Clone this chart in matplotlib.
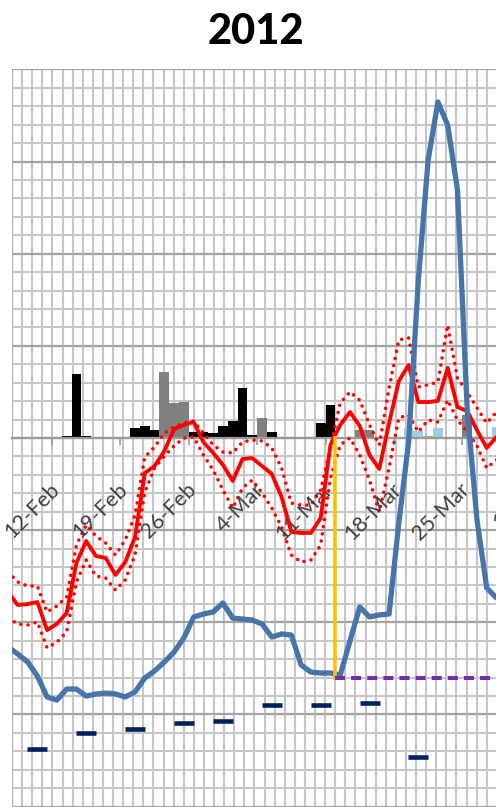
import matplotlib
matplotlib.use("Agg")
import matplotlib.pyplot as plt
import matplotlib.dates as mdates
import numpy as np
import pandas as pd

# ---------------- data ----------------
start_day = "2012-02-07"          # first daily point
n_days = 52
red_mid = [-8.36, -9.06, -9.01, -8.90, -10.42, -10.09, -9.50, -6.78, -5.59, -6.40,
           -6.51, -7.43, -6.73, -5.37, -1.90, -1.52, -0.71, 0.49, 0.71, 0.87,
           -0.22, -0.81, -1.46, -2.33, -1.14, -1.09, -1.52, -1.95, -3.20, -5.10,
           -5.15, -5.15, -4.34, -0.38, 0.71, 1.41, 0.65, -0.92, -1.68, 0.81,
           3.09, 3.96, 1.95, 1.95, 2.01, 3.80, 1.68, 1.46, 0.43, -0.54,
           0.05, 0.43]
red_upper = [-7.27, -7.81, -8.03, -8.03, -9.44, -9.12, -8.63, -5.81, -4.72, -5.32,
             -5.70, -6.35, -5.53, -4.18, -1.03, -0.49, 0.27, 0.60, 0.81, 0.92,
             0.27, -0.38, -0.76, -0.81, -0.22, -0.11, -0.16, -0.54, -1.63, -3.53,
             -3.64, -3.64, -2.82, -0.54, 1.90, 2.50, 2.06, 0.71, -0.38, 2.71,
             5.32, 5.43, 2.77, 2.88, 3.04, 6.13, 3.26, 2.50, 1.63, 0.81,
             1.41, 1.79]
red_lower = [-9.77, -10.09, -10.15, -9.98, -11.39, -11.07, -10.53, -7.81, -6.62, -7.49,
             -7.60, -8.25, -7.70, -6.35, -2.93, -1.63, -0.98, -0.43, 0.00, 0.05,
             -0.92, -1.74, -2.82, -3.80, -2.71, -2.28, -2.98, -3.80, -4.83, -6.35,
             -6.73, -6.62, -5.81, -2.17, -0.38, 0.00, -0.92, -2.28, -4.02, -1.63,
             1.09, 1.25, 0.33, 0.98, 0.87, 2.06, 0.98, 0.33, -0.43, -1.63,
             -1.19, -0.76]
blue = [-11.34, -11.72, -12.15, -12.91, -14.05, -14.22, -13.62, -13.62, -14.00, -13.89,
        -13.84, -13.89, -14.05, -13.78, -13.02, -12.64, -12.15, -11.61, -10.85, -9.71,
        -9.55, -9.44, -8.95, -9.77, -9.82, -9.88, -10.09, -10.80, -10.63, -10.69,
        -12.32, -12.70, -12.75, -12.75, -12.86, -11.01, -9.17, -9.71, -9.60, -9.55,
        -4.61, -0.22, 8.57, 15.08, 18.23, 16.98, 13.46, 1.52, -4.45, -8.14,
        -8.68, -8.79]

black_days = ["2012-02-13", "2012-02-14", "2012-02-15", "2012-02-20", "2012-02-21",
              "2012-02-22", "2012-02-26", "2012-02-27", "2012-02-28", "2012-02-29",
              "2012-03-01", "2012-03-02", "2012-03-03", "2012-03-05", "2012-03-10",
              "2012-03-11"]
black_vals = [0.1, 3.47, 0.1, 0.54, 0.65, 0.43, 0.3, 0.3, 0.27, 0.67,
              0.92, 2.7, 0.15, 0.34, 0.8, 1.79]
gray_days = ["2012-02-23", "2012-02-24", "2012-02-25", "2012-03-04", "2012-03-14",
             "2012-03-15", "2012-03-25"]
gray_vals = [3.6, 1.9, 1.97, 1.07, 0.43, 0.43, 1.25]
lblue_days = ["2012-03-19", "2012-03-20", "2012-03-22", "2012-03-28"]
lblue_vals = [0.52, 0.4, 0.52, 0.57]
green_days = ["2012-03-21"]
green_vals = [0.1]

navy_days = ["2012-02-10", "2012-02-15", "2012-02-20", "2012-02-25", "2012-02-29",
             "2012-03-05", "2012-03-10", "2012-03-15", "2012-03-20"]
navy_vals = [-16.87, -15.99, -15.79, -15.45, -15.34, -14.49, -14.49, -14.36, -17.29]

threshold_day = "2012-03-12"
threshold_val = -13.0

tick_days = ["2012-02-12", "2012-02-19", "2012-02-26", "2012-03-04", "2012-03-11",
             "2012-03-18", "2012-03-25", "2012-04-01"]
title = "2012"

# ---------------- figure ----------------
W, H, DPI = 496, 807, 100
fig = plt.figure(figsize=(W / DPI, H / DPI), dpi=DPI)
ax = fig.add_axes([12 / W, 0, (W - 12) / W, (H - 69) / H])

half = pd.Timedelta(hours=12)
days = pd.date_range(start_day, periods=n_days, freq="D")
xd = mdates.date2num(days + half)

x0 = mdates.date2num(pd.Timestamp("2012-02-12"))
xmin = x0 - 4.094
xmax = x0 + 45.445
YMIN, YMAX = -20.02, 20.02

# grid
for v in range(-20, 21):
    major = (v % 5 == 0)
    ax.axhline(v, color="#a3a3a3" if major else "#c6c6c6",
               lw=1.6 if major else 1.5, zorder=0.5 if major else 0.3)
step = 1.0338
gx = xmin + step * np.arange(0, 60)
for g in gx:
    if g < xmax:
        ax.axvline(g, color="#c6c6c6", lw=1.5, zorder=0.2)

for s in ["top", "right", "left"]:
    ax.spines[s].set_visible(False)
ax.axvline(xmin, color="#b0b0b0", lw=1.6, zorder=0.6)

ax.spines["bottom"].set_position(("data", 0))
ax.spines["bottom"].set_color("#9a9a9a")
ax.spines["bottom"].set_linewidth(1.6)
ax.spines["bottom"].set_zorder(2.5)
ax.yaxis.set_visible(False)

# bars
def bars(dlist, vals, color):
    xs = mdates.date2num(pd.to_datetime(dlist) + half)
    ax.bar(xs, vals, width=1.0, color=color, edgecolor="none", zorder=2)

bars(black_days, black_vals, "black")
bars(gray_days, gray_vals, "#808080")
bars(lblue_days, lblue_vals, "#9fcde3")
bars(green_days, green_vals, "#9bbb59")

# red band
ax.plot(xd, red_upper, color="red", lw=2.6, linestyle=(0, (0.01, 2.0)),
        dash_capstyle="round", zorder=3)
ax.plot(xd, red_lower, color="red", lw=2.6, linestyle=(0, (0.01, 2.0)),
        dash_capstyle="round", zorder=3)
ax.plot(xd, red_mid, color="red", lw=2.8, zorder=3.5, solid_joinstyle="round")

# blue line
ax.plot(xd, blue, color="#4674ab", lw=3.8, zorder=4, solid_joinstyle="round",
        solid_capstyle="round")

# threshold
tx = mdates.date2num(pd.Timestamp(threshold_day))
ax.plot([tx, tx], [0, threshold_val], color="#ffc000", lw=2.6, zorder=5)
ax.plot([tx, xmax + 2], [threshold_val, threshold_val], color="#7030a0", lw=2.9,
        linestyle=(0, (2.5, 1.5)), zorder=5)

# navy markers
nx = mdates.date2num(pd.to_datetime(navy_days) + half)
ax.plot(nx, navy_vals, linestyle="none", marker="_", markersize=14, mew=3.3,
        color="#002060", zorder=6)

ticks = mdates.date2num(pd.to_datetime(tick_days))
ax.set_xticks(ticks)
ax.set_xticklabels([])
ax.tick_params(axis="x", direction="out", length=5, width=1.2, color="#9a9a9a")

for t, d in zip(ticks, pd.to_datetime(tick_days)):
    lab = f"{d.day}-{d.strftime('%b')}"
    ax.text(t - 0.3, -2.25, lab, rotation=45, rotation_mode="anchor", ha="right",
            va="top", fontsize=15.5, family="Lato", color="#404040", clip_on=False,
            zorder=3)

# axis limits last, so neither autoscale nor set_xticks can move them
ax.set_xlim(xmin, xmax)
ax.set_ylim(YMIN, YMAX)

fig.text(256 / W, 1 - 44 / H, title, ha="center", va="baseline", fontsize=30,
         fontweight="black", family="Lato", color="black")

fig.savefig("out.png", dpi=DPI)
